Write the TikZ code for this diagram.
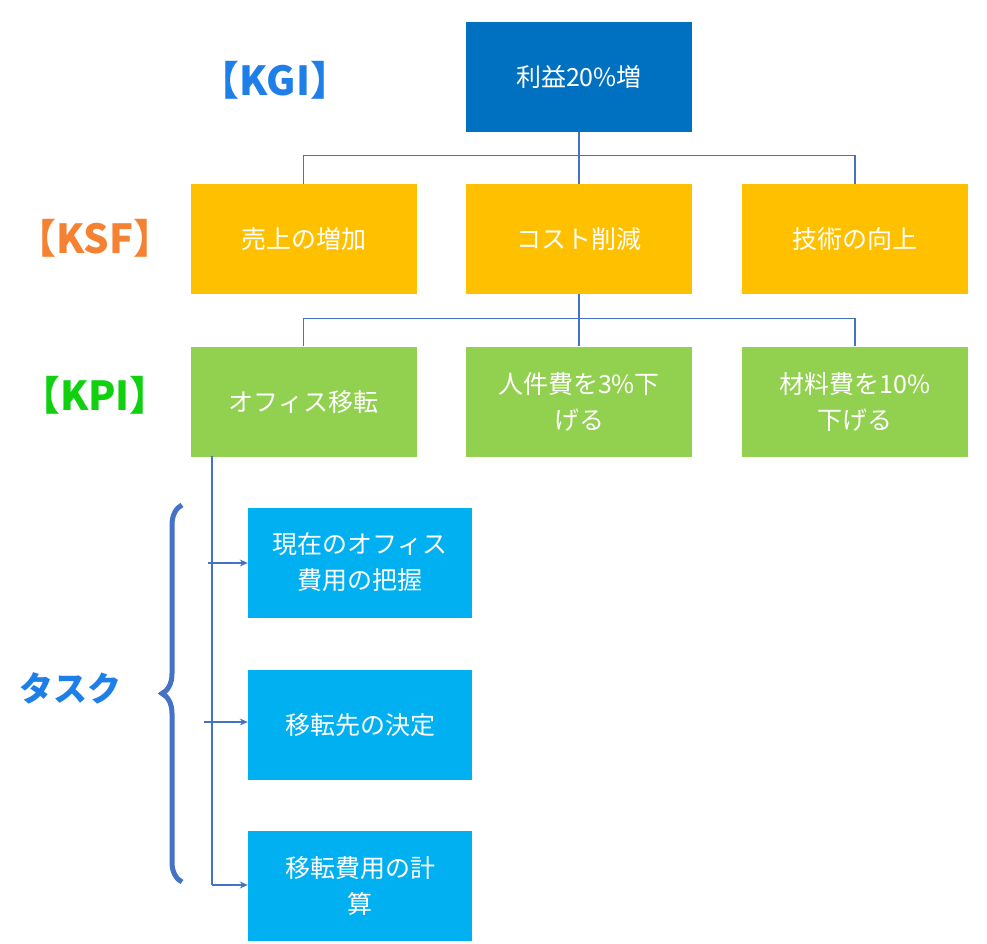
\documentclass[tikz,border=0pt]{standalone}
\usepackage{fontspec}
\setmainfont{Noto Sans CJK JP}
\usetikzlibrary{decorations.pathreplacing,arrows.meta}
\definecolor{kgi}{HTML}{0070C0}
\definecolor{ksf}{HTML}{FFC000}
\definecolor{kpi}{HTML}{92D050}
\definecolor{task}{HTML}{00B0F0}
\definecolor{ln}{HTML}{4472C4}
\definecolor{lblue}{HTML}{1F7FE8}
\definecolor{lorange}{HTML}{F58232}
\definecolor{lgreen}{HTML}{10D010}
\begin{document}
\begin{tikzpicture}[x=1pt,y=-1pt,
 box/.style={minimum width=226pt,minimum height=110pt,inner sep=2pt,text=white,font=\fontsize{25}{36}\selectfont,align=center,text width=220pt},
 con/.style={ln,line width=1.2pt},
 arr/.style={con,-{Stealth[length=8pt,width=7pt]}},
 lab/.style={font=\fontsize{40}{44}\selectfont\bfseries}]
\useasboundingbox (0,0) rectangle (987,944);
\node[box,fill=kgi] (g) at (579,77) {利益20\%増};
\node[box,fill=ksf] (s1) at (303.5,239) {売上の増加};
\node[box,fill=ksf] (s2) at (579,239) {コスト削減};
\node[box,fill=ksf] (s3) at (855,239) {技術の向上};
\node[box,fill=kpi] (p1) at (303.5,401.5) {オフィス移転};
\node[box,fill=kpi] (p2) at (579,401.5) {人件費を3\%下\\げる};
\node[box,fill=kpi] (p3) at (855,401.5) {材料費を10\%\\下げる};
\node[box,fill=task,minimum width=224pt,minimum height=110pt] (t1) at (360,562.5) {現在のオフィス\\費用の把握};
\node[box,fill=task,minimum width=224pt,minimum height=110pt] (t2) at (360,725) {移転先の決定};
\node[box,fill=task,minimum width=224pt,minimum height=110pt] (t3) at (360,886) {移転費用の計\\算};
\draw[con] (g.south) -- ++(0,23) coordinate (a);
\draw[con] (s1.north) |- (a) -| (s3.north);
\draw[con] (a) -- (s2.north);
\draw[con] (s2.south) -- ++(0,24) coordinate (b);
\draw[con] (p1.north) |- (b) -| (p3.north);
\draw[con] (b) -- (p2.north);
\coordinate (v) at (212,456);
\draw[con] (v) -- (212,885);
\coordinate (c1) at (208,563);
\coordinate (c2) at (204,722);
\coordinate (c3) at (212,885);
\draw[arr] (c1) -- (t1.west|-c1);
\draw[arr] (c2) -- (t2.west|-c2);
\draw[arr] (c3) -- (t3.west|-c3);
\node[lab,text=lblue] (lg) at (275,80) {【KGI】};
\node[lab,text=lorange] (ls) at (95,238) {【KSF】};
\node[lab,text=lgreen] (lp) at (95,395) {【KPI】};
\node[font=\fontsize{34}{38}\selectfont\bfseries,text=lblue] (lt) at (70,688) {タスク};
\draw[ln,line width=5pt,decorate,decoration={brace,amplitude=20pt}] (182,882) -- (182,505);
\end{tikzpicture}
\end{document}
